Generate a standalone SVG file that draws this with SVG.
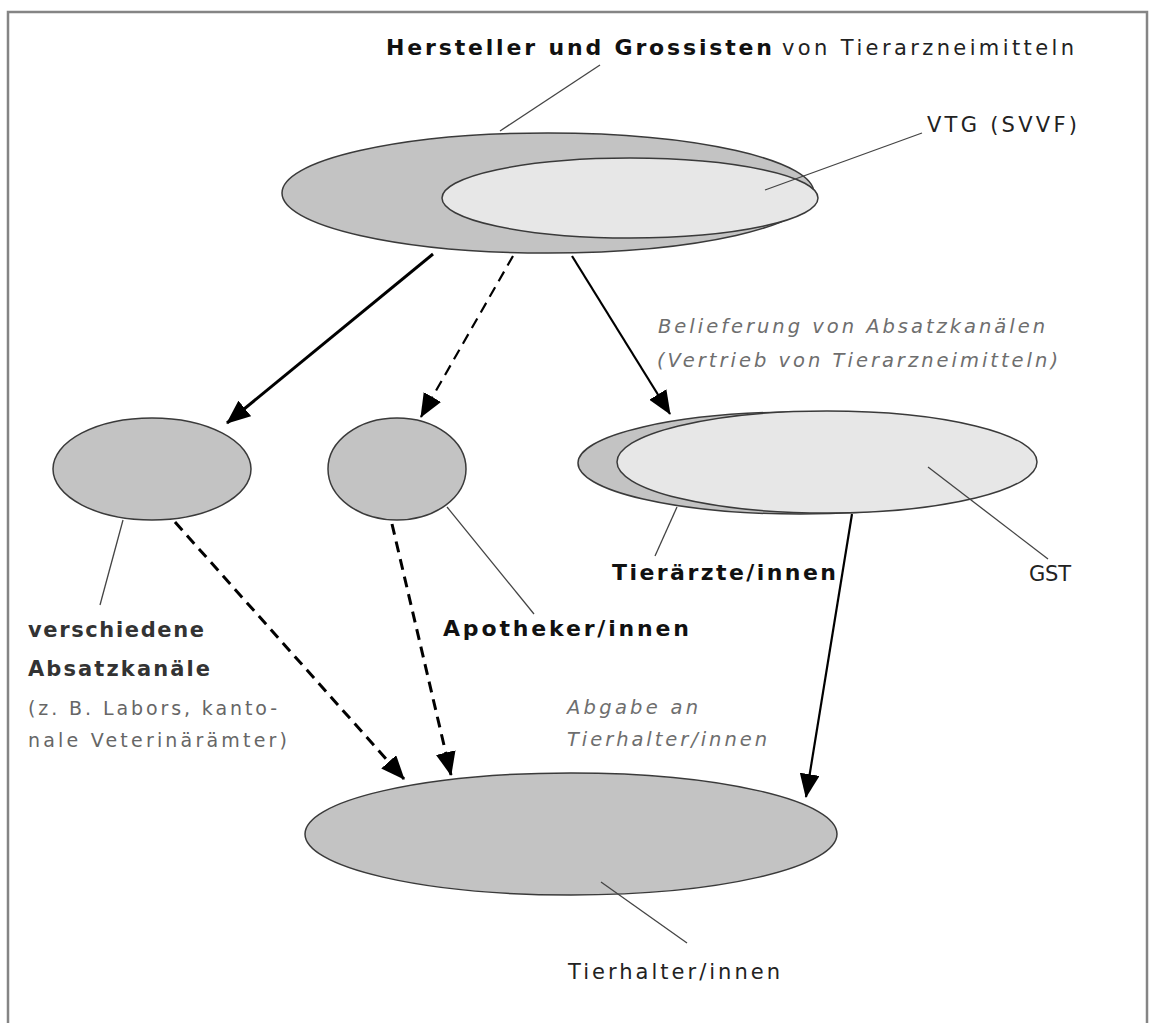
<svg xmlns="http://www.w3.org/2000/svg" width="1149" height="1023" viewBox="0 0 1149 1023">
  <style>
    .frame { fill: none; stroke: #858585; stroke-width: 2.5; }
    .dark { fill: #c3c3c3; stroke: #3a3a3a; stroke-width: 1.5; }
    .light { fill: #e7e7e7; stroke: #3a3a3a; stroke-width: 1.5; }
    .leader { fill: none; stroke: #444; stroke-width: 1.3; }
    .flow { fill: none; stroke: #000; }
    .thick { stroke-width: 3; }
    .mid { stroke-width: 2.2; }
    .dash { stroke-dasharray: 11 7; }
    text { font-family: "DejaVu Sans", "Liberation Sans", sans-serif; font-size: 21px; }
    .b { font-weight: bold; fill: #111; font-size: 22px; }
    .r { fill: #222; }
    .sb { font-weight: bold; fill: #333; }
    .note { fill: #666; font-size: 19px; }
    .it { fill: #6e6e6e; font-style: italic; font-size: 19.5px; }
  </style>
  <defs>
    <marker id="head" markerUnits="userSpaceOnUse" markerWidth="24" markerHeight="20" refX="23" refY="10" orient="auto">
      <path d="M0,0 L24,10 L0,20 z" fill="#000"/>
    </marker>
  </defs>

  <rect class="frame" x="8" y="12" width="1139" height="1030"/>

  <!-- manufacturers and wholesalers -->
  <g id="hersteller">
    <ellipse class="dark" cx="548" cy="193" rx="266" ry="60"/>
    <text class="b" x="386" y="55" textLength="386" lengthAdjust="spacing">Hersteller und Grossisten</text>
    <text class="r" x="782" y="55" textLength="292" lengthAdjust="spacing">von Tierarzneimitteln</text>
    <line class="leader" x1="500" y1="131" x2="600" y2="65"/>
  </g>

  <g id="vtg">
    <ellipse class="light" cx="630" cy="198" rx="188" ry="40"/>
    <text class="r" x="927" y="132" textLength="150" lengthAdjust="spacing">VTG (SVVF)</text>
    <line class="leader" x1="765" y1="190" x2="922" y2="133"/>
  </g>

  <!-- sales channels -->
  <g id="absatzkanaele">
    <ellipse class="dark" cx="152" cy="469" rx="99" ry="51"/>
    <line class="leader" x1="123" y1="520" x2="100" y2="605"/>
    <text class="sb" x="28" y="637" textLength="176" lengthAdjust="spacing">verschiedene</text>
    <text class="sb" x="28" y="676" textLength="182" lengthAdjust="spacing">Absatzkanäle</text>
    <text class="note" x="28" y="715" textLength="249" lengthAdjust="spacing">(z. B. Labors, kanto-</text>
    <text class="note" x="28" y="747" textLength="259" lengthAdjust="spacing">nale Veterinärämter)</text>
  </g>

  <g id="apotheker">
    <ellipse class="dark" cx="397" cy="469" rx="69" ry="51"/>
    <line class="leader" x1="447" y1="507" x2="534" y2="614"/>
    <text class="b" x="443" y="636" textLength="246" lengthAdjust="spacing">Apotheker/innen</text>
  </g>

  <g id="tieraerzte">
    <ellipse class="dark" cx="800" cy="463" rx="222" ry="51"/>
    <line class="leader" x1="677" y1="507" x2="655" y2="556"/>
    <text class="b" x="612" y="580" textLength="224" lengthAdjust="spacing">Tierärzte/innen</text>
  </g>

  <g id="gst">
    <ellipse class="light" cx="827" cy="462" rx="210" ry="51"/>
    <line class="leader" x1="928" y1="467" x2="1048" y2="559"/>
    <text class="r" x="1029" y="581" textLength="42" lengthAdjust="spacing">GST</text>
  </g>

  <!-- animal keepers -->
  <g id="tierhalter">
    <ellipse class="dark" cx="571" cy="834" rx="266" ry="61"/>
    <line class="leader" x1="601" y1="882" x2="687" y2="943"/>
    <text class="r" x="568" y="979" textLength="212" lengthAdjust="spacing">Tierhalter/innen</text>
  </g>

  <!-- flow labels -->
  <g id="labels">
    <text class="it" x="658" y="333" textLength="387" lengthAdjust="spacing">Belieferung von Absatzkanälen</text>
    <text class="it" x="657" y="367" textLength="401" lengthAdjust="spacing">(Vertrieb von Tierarzneimitteln)</text>
    <text class="it" x="567" y="714" textLength="131" lengthAdjust="spacing">Abgabe an</text>
    <text class="it" x="567" y="746" textLength="200" lengthAdjust="spacing">Tierhalter/innen</text>
  </g>

  <g id="connectors">
    <line class="flow thick" x1="433" y1="254" x2="227" y2="423" marker-end="url(#head)"/>
    <line class="flow mid dash" x1="513" y1="256" x2="421" y2="417" marker-end="url(#head)"/>
    <line class="flow mid" x1="572" y1="256" x2="670" y2="414" marker-end="url(#head)"/>
    <line class="flow thick dash" x1="175" y1="522" x2="404" y2="779" marker-end="url(#head)"/>
    <line class="flow thick dash" x1="392" y1="524" x2="451" y2="775" marker-end="url(#head)"/>
    <line class="flow mid" x1="852" y1="514" x2="806" y2="797" marker-end="url(#head)"/>
  </g>
</svg>
